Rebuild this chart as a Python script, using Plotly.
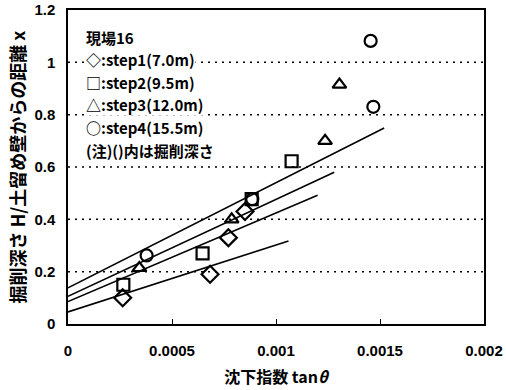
import plotly.graph_objects as go

# data
step1_x = [0.000263, 0.000683, 0.000771, 0.000851]
step1_y = [0.10, 0.19, 0.33, 0.43]
step2_x = [0.000266, 0.000647, 0.000883, 0.001075]
step2_y = [0.15, 0.27, 0.477, 0.622]
step3_x = [0.000343, 0.000787, 0.001236, 0.001305]
step3_y = [0.214, 0.40, 0.70, 0.915]
step4_x = [0.000378, 0.000886, 0.001455, 0.001468]
step4_y = [0.262, 0.477, 1.082, 0.83]

# fitted line endpoints
fit1_x = [0.0, 0.00106]
fit1_y = [0.046, 0.317]
fit2_x = [0.0, 0.00120]
fit2_y = [0.086, 0.492]
fit3_x = [0.0, 0.00128]
fit3_y = [0.106, 0.580]
fit4_x = [0.0, 0.00152]
fit4_y = [0.138, 0.749]

x_ticks = [0, 0.0005, 0.001, 0.0015, 0.002]
x_labels = ["0", "0.0005", "0.001", "0.0015", "0.002"]
y_ticks = [0, 0.2, 0.4, 0.6, 0.8, 1.0, 1.2]
y_labels = ["0", "0.2", "0.4", "0.6", "0.8", "1", "1.2"]
grid_y = [0.2, 0.4, 0.6, 0.8, 1.0]

legend_title = "現場16"
legend_symbols = ["◇", "□", "△", "○"]
legend_labels = [":step1(7.0m)", ":step2(9.5m)", ":step3(12.0m)", ":step4(15.5m)"]
legend_note = "(注)()内は掘削深さ"

LAT = "Liberation Sans, Noto Sans CJK JP"
CJK = "Noto Sans CJK JP"
fig = go.Figure()

for gy in grid_y:
    fig.add_shape(type="line", xref="paper", yref="y", x0=0, x1=1, y0=gy, y1=gy,
                  line=dict(color="black", width=1.5, dash="2px,5px"), layer="below")

for fx, fy in [(fit1_x, fit1_y), (fit2_x, fit2_y), (fit3_x, fit3_y), (fit4_x, fit4_y)]:
    fig.add_trace(go.Scatter(x=fx, y=fy, mode="lines",
                             line=dict(color="black", width=1.6), showlegend=False))

for sx, sy, sym, sz in [(step1_x, step1_y, "diamond-open", 13),
                        (step2_x, step2_y, "square-open", 12),
                        (step3_x, step3_y, "triangle-up-open", 12),
                        (step4_x, step4_y, "circle-open", 12)]:
    fig.add_trace(go.Scatter(x=sx, y=sy, mode="markers",
                             marker=dict(symbol=sym, size=sz, color="black",
                                         line=dict(color="black", width=2.2)),
                             showlegend=False))

lines = [legend_title] + [s + l for s, l in zip(legend_symbols, legend_labels)] + [legend_note]
for i, t in enumerate(lines):
    fig.add_annotation(x=0.0, y=1.2, xref="x", yref="y", text="<b>" + t + "</b>",
                       showarrow=False, xanchor="left", yanchor="middle", align="left",
                       xshift=17, yshift=-(27 + 22.6 * i), borderpad=0,
                       bgcolor="white",
                       font=dict(family=CJK, size=15, color="black"))

fig.update_layout(
    width=506, height=390,
    margin=dict(l=68, r=22, t=10, b=66, autoexpand=False),
    paper_bgcolor="white", plot_bgcolor="white",
    font=dict(family=LAT, color="black"),
    xaxis=dict(range=[0, 0.002], tickvals=x_ticks, ticktext=["<b>%s</b>" % s for s in x_labels],
               ticks="inside", ticklen=5, tickcolor="black", showgrid=False,
               showline=True, linecolor="black", linewidth=1.5, mirror=True,
               zeroline=False, ticklabelstandoff=12,
               tickfont=dict(family=LAT, size=15, color="black"),
               title=dict(text="<b>沈下指数 tan<i>θ</i></b>", standoff=14,
                          font=dict(family=CJK, size=16, color="black"))),
    yaxis=dict(range=[0, 1.2], tickvals=y_ticks, ticktext=["<b>%s</b>" % s for s in y_labels],
               ticks="", showgrid=False,
               showline=True, linecolor="black", linewidth=1.5, mirror=True,
               zeroline=False, ticklabelstandoff=8,
               tickfont=dict(family=LAT, size=15, color="black"),
               title=dict(text="<b>掘削深さ H/土留め壁からの距離 x</b>", standoff=4,
                          font=dict(family=CJK, size=18, color="black"))),
)

fig.write_html("out.html")
